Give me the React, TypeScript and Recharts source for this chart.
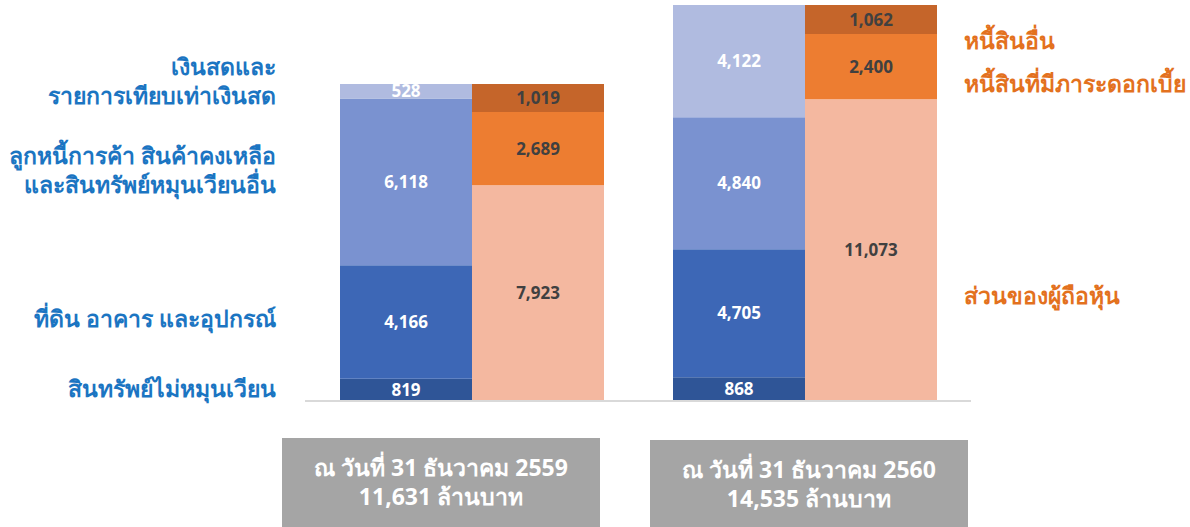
import { BarChart, Bar, XAxis, YAxis, LabelList, ReferenceLine } from "recharts";

// ปีงบการเงิน
const periods = ["2559", "2560"];
const periodTitles = ["ณ วันที่ 31 ธันวาคม 2559", "ณ วันที่ 31 ธันวาคม 2560"];
const totals = ["11,631 ล้านบาท", "14,535 ล้านบาท"];

// สินทรัพย์ (ล้านบาท)
const nonCurrent = [819, 868];
const ppe = [4166, 4705];
const receivables = [6118, 4840];
const cash = [528, 4122];

// หนี้สินและส่วนของผู้ถือหุ้น (ล้านบาท)
const equity = [7923, 11073];
const interestDebt = [2689, 2400];
const otherDebt = [1019, 1062];

const assetNames = [
  ["เงินสดและ", "รายการเทียบเท่าเงินสด"],
  ["ลูกหนี้การค้า สินค้าคงเหลือ", "และสินทรัพย์หมุนเวียนอื่น"],
  ["ที่ดิน อาคาร และอุปกรณ์"],
  ["สินทรัพย์ไม่หมุนเวียน"],
];
const liabilityNames = ["หนี้สินอื่น", "หนี้สินที่มีภาระดอกเบี้ย", "ส่วนของผู้ถือหุ้น"];

const data = periods.map((p, i) => ({
  period: p,
  nonCurrent: nonCurrent[i],
  ppe: ppe[i],
  receivables: receivables[i],
  cash: cash[i],
  equity: equity[i],
  interestDebt: interestDebt[i],
  otherDebt: otherDebt[i],
}));

const fmt = (v: any) => Number(v).toLocaleString("en-US");
const font = "'Noto Sans', 'Open Sans', sans-serif";
const blue = "#1B75C2";
const orange = "#E3711E";

const whiteLabel = { fill: "#ffffff", fontSize: 17, fontWeight: 700, fontFamily: font };
const darkLabel = { fill: "#404040", fontSize: 17, fontWeight: 700, fontFamily: font };

export default function App() {
  return (
    <div style={{ position: "absolute", left: 0, top: 0, width: 1190, height: 527, background: "#fff", fontFamily: font, overflow: "hidden" }}>
      <BarChart
        width={1190}
        height={527}
        data={data}
        margin={{ top: 5, right: 219, left: 305, bottom: 126 }}
        barGap={0}
        barSize={132}
      >
        <XAxis dataKey="period" hide />
        <YAxis hide domain={[0, "dataMax"]} />
        <Bar dataKey="nonCurrent" stackId="a" fill="#2F5597" isAnimationActive={false}>
          <LabelList dataKey="nonCurrent" position="center" formatter={fmt} style={whiteLabel} />
        </Bar>
        <Bar dataKey="ppe" stackId="a" fill="#3D67B6" isAnimationActive={false}>
          <LabelList dataKey="ppe" position="center" formatter={fmt} style={whiteLabel} />
        </Bar>
        <Bar dataKey="receivables" stackId="a" fill="#7A92D0" isAnimationActive={false}>
          <LabelList dataKey="receivables" position="center" formatter={fmt} style={whiteLabel} />
        </Bar>
        <Bar dataKey="cash" stackId="a" fill="#B0BBE0" isAnimationActive={false}>
          <LabelList dataKey="cash" position="center" formatter={fmt} style={whiteLabel} />
        </Bar>
        <Bar dataKey="equity" stackId="b" fill="#F4B8A0" isAnimationActive={false}>
          <LabelList dataKey="equity" position="center" formatter={fmt} style={darkLabel} />
        </Bar>
        <Bar dataKey="interestDebt" stackId="b" fill="#ED7D31" isAnimationActive={false}>
          <LabelList dataKey="interestDebt" position="center" formatter={fmt} style={darkLabel} />
        </Bar>
        <Bar dataKey="otherDebt" stackId="b" fill="#C5652A" isAnimationActive={false}>
          <LabelList dataKey="otherDebt" position="center" formatter={fmt} style={darkLabel} />
        </Bar>
        <ReferenceLine y={0} stroke="#D9D9D9" strokeWidth={2} />
      </BarChart>

      {/* ป้ายสินทรัพย์ด้านซ้าย */}
      {assetNames.map((lines, i) => {
        const tops = [52, 141, 304, 374];
        return (
          <div key={i} style={{ position: "absolute", right: 1190 - 276, top: tops[i], textAlign: "right", color: blue, fontSize: 23, fontWeight: 600, lineHeight: "29px", whiteSpace: "nowrap" }}>
            {lines.map((l, j) => (
              <div key={j}>{l}</div>
            ))}
          </div>
        );
      })}

      {/* ป้ายหนี้สินด้านขวา */}
      {liabilityNames.map((name, i) => {
        const tops = [26, 69, 281];
        return (
          <div key={i} style={{ position: "absolute", left: 964, top: tops[i], color: orange, fontSize: 23, fontWeight: 600, lineHeight: "29px", whiteSpace: "nowrap" }}>
            {name}
          </div>
        );
      })}

      {/* กล่องวันที่ด้านล่าง */}
      {periodTitles.map((t, i) => {
        const lefts = [282, 650];
        const tops = [438, 440];
        return (
          <div key={i} style={{ position: "absolute", left: lefts[i], top: tops[i], width: 318, height: 100, background: "#A5A5A5", color: "#fff", fontSize: 23, fontWeight: 700, textAlign: "center", lineHeight: "29px", paddingTop: 15, boxSizing: "border-box" }}>
            <div>{t}</div>
            <div>{totals[i]}</div>
          </div>
        );
      })}
    </div>
  );
}
